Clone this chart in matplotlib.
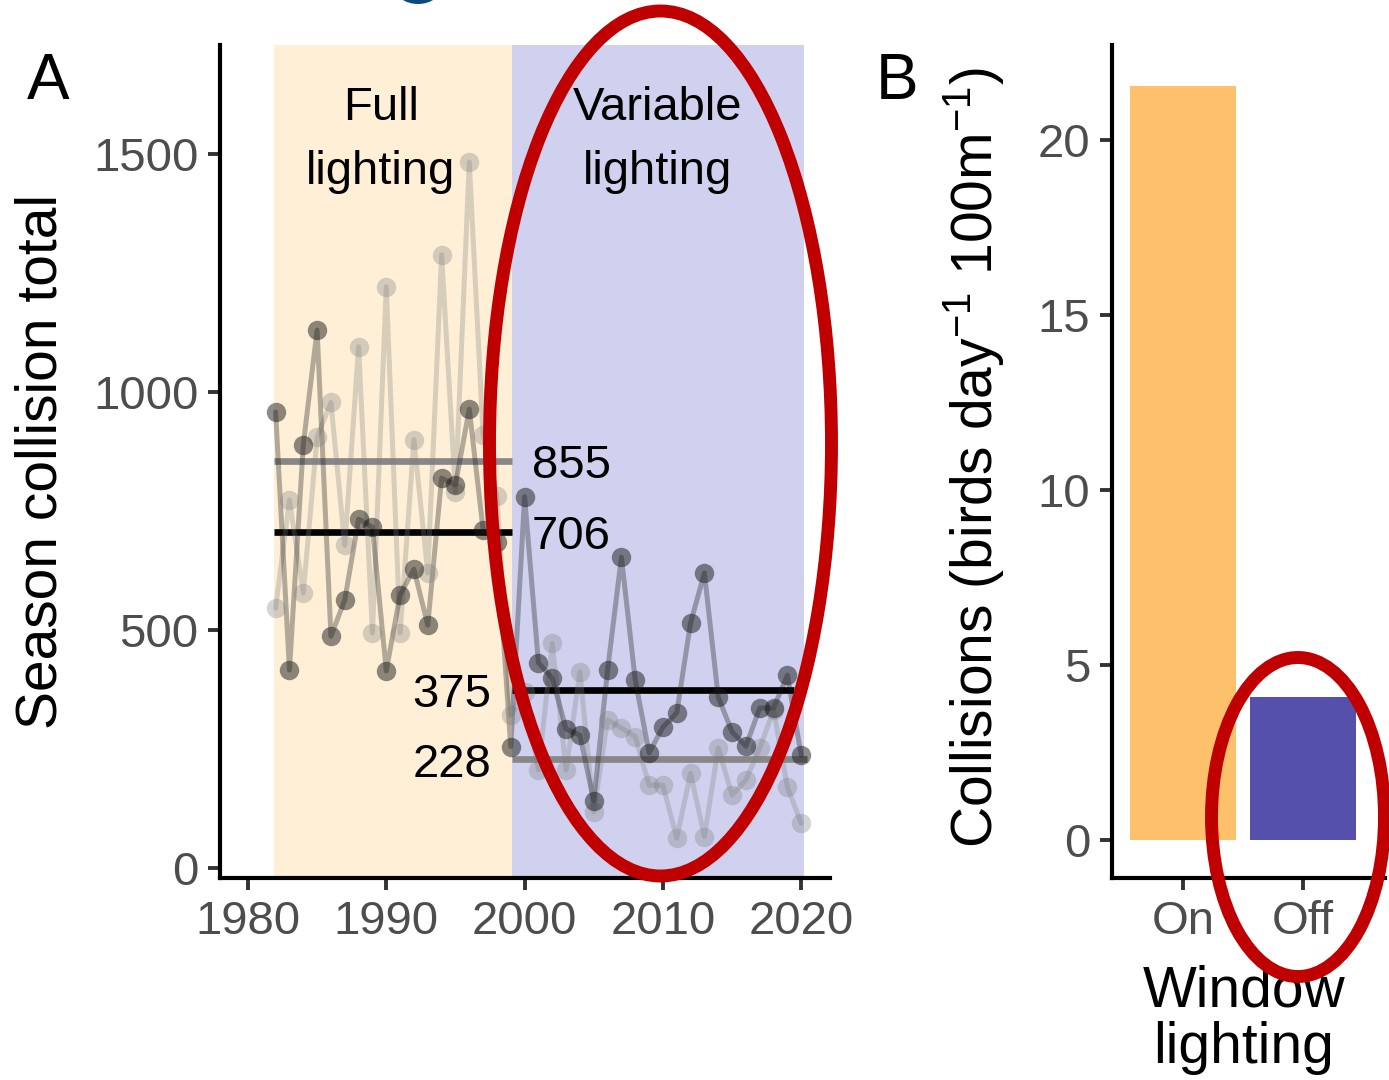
import matplotlib
matplotlib.use("Agg")
import matplotlib.pyplot as plt
from matplotlib.patches import Ellipse

plt.rcParams['font.family'] = ['Liberation Sans', 'DejaVu Sans']
plt.rcParams['mathtext.fontset'] = 'custom'
plt.rcParams['mathtext.rm'] = 'Liberation Sans'
plt.rcParams['mathtext.it'] = 'Liberation Sans:italic'

# ---------------- data ----------------
years = list(range(1982, 2021))
dark_series = [958, 416, 889, 1130, 487, 563, 733, 716, 414, 574, 628, 510, 819, 805, 964, 711, 685,
               255, 780, 431, 399, 292, 279, 141, 416, 653, 395, 242, 296, 326, 515, 620, 359, 286,
               256, 336, 336, 405, 237]
light_series = [546, 773, 578, 905, 978, 678, 1095, 494, 1221, 494, 900, 620, 1288, 790, 1483, 910, 782,
                321, 370, 206, 472, 206, 412, 118, 311, 294, 276, 174, 174, 63, 199, 66, 252, 153,
                185, 252, 332, 170, 94]
period_edges = [1981.9, 1999.1, 2020.2]
period_labels = ["Full\nlighting", "Variable\nlighting"]
full_means = {"light": 855, "dark": 706}
var_means = {"light": 228, "dark": 375}
mean_labels = ["855", "706", "375", "228"]

bar_cats = ["On", "Off"]
bar_vals = [21.54, 4.09]
bar_colors = ["#FEC16B", "#5450AB"]

x_ticks = [1980, 1990, 2000, 2010, 2020]
y_ticks_a = [0, 500, 1000, 1500]
y_ticks_b = [0, 5, 10, 15, 20]

# ---------------- figure ----------------
W, H = 1389, 1080
fig = plt.figure(figsize=(W / 100, H / 100), dpi=100)

def fx(px):
    return px / W

def fy(py):
    return 1 - py / H

axA = fig.add_axes([fx(220), fy(878), fx(830) - fx(220), fy(45) - fy(878)])
axB = fig.add_axes([fx(1112), fy(878), fx(1385) - fx(1112), fy(45) - fy(878)])

tick_col = "#4D4D4D"
tick_fs = 34
title_fs = 41
ann_fs = 34

for ax in (axA, axB):
    for s in ("top", "right"):
        ax.spines[s].set_visible(False)
    for s in ("left", "bottom"):
        ax.spines[s].set_linewidth(3.0)
        ax.spines[s].set_color("black")
    ax.tick_params(axis="both", length=8.5, width=2.8, color="#333333",
                   labelsize=tick_fs, labelcolor=tick_col, pad=7)

# ---------------- panel A ----------------
axA.set_xlim(1977.98, 2022.08)
axA.set_ylim(-21, 1729)
axA.axvspan(period_edges[0], period_edges[1], color="#FEEFD6", lw=0, zorder=0)
axA.axvspan(period_edges[1], period_edges[2], color="#CFD1EE", lw=0, zorder=0)

# mean segments
mean_lw = 4.8
axA.hlines(full_means["light"], period_edges[0], period_edges[1], color="#878787", lw=mean_lw, zorder=2)
axA.hlines(full_means["dark"], period_edges[0], period_edges[1], color="black", lw=mean_lw, zorder=2)
axA.hlines(var_means["dark"], period_edges[1], 2019.5, color="black", lw=mean_lw, zorder=2)
axA.hlines(var_means["light"], period_edges[1], 2020.4, color="#878787", lw=mean_lw, zorder=2)

# series
axA.plot(years, light_series, color="#7F7F7F", alpha=0.3, lw=3.6, zorder=3, solid_capstyle="round")
axA.plot(years, light_series, "o", color="#7F7F7F", alpha=0.33, ms=14, mew=0, zorder=4)
axA.plot(years, dark_series, color="#1a1a1a", alpha=0.33, lw=3.6, zorder=3, solid_capstyle="round")
axA.plot(years, dark_series, "o", color="#1a1a1a", alpha=0.5, ms=14, mew=0, zorder=5)

# labels (small downward nudge so glyph centres sit on the segments)
nudge = -11
axA.text(2000.5, full_means["light"] + nudge, mean_labels[0], fontsize=ann_fs, va="center", ha="left", zorder=6)
axA.text(2000.5, full_means["dark"] + nudge, mean_labels[1], fontsize=ann_fs, va="center", ha="left", zorder=6)
axA.text(1997.6, var_means["dark"] + nudge, mean_labels[2], fontsize=ann_fs, va="center", ha="right", zorder=6)
axA.text(1997.6, var_means["light"] + nudge, mean_labels[3], fontsize=ann_fs, va="center", ha="right", zorder=6)

axA.text(1989.6, 1530, period_labels[0], fontsize=ann_fs,
         ha="center", va="center", linespacing=1.6, zorder=6)
axA.text(2009.6, 1530, period_labels[1], fontsize=ann_fs,
         ha="center", va="center", linespacing=1.6, zorder=6)

axA.set_xticks(x_ticks)
axA.set_yticks(y_ticks_a)
axA.set_ylabel("Season collision total", fontsize=title_fs)
axA.yaxis.label.set_verticalalignment("center")
axA.yaxis.set_label_coords((42 - 220) / 610, 0.5)

# ---------------- panel B ----------------
axB.set_xlim(-0.592, 1.683)
axB.set_ylim(-1.086, 22.71)
axB.bar([0, 1], bar_vals, width=0.89, color=bar_colors, zorder=2)
axB.set_xticks([0, 1])
axB.set_xticklabels(bar_cats)
axB.set_yticks(y_ticks_b)
axB.set_xlabel("Window\nlighting", fontsize=title_fs, linespacing=1.05)
axB.xaxis.label.set_verticalalignment("center")
axB.xaxis.set_label_coords((1244 - 1112) / 273, (878 - 1020) / 833)
axB.set_ylabel(r"Collisions (birds day$^{-1}$ 100m$^{-1}$)", fontsize=title_fs)
axB.yaxis.label.set_verticalalignment("center")
axB.yaxis.set_label_coords((973 - 1112) / 273, (878 - 458) / 833)

# panel letters
fig.text(fx(48), fy(82), "A", fontsize=46, ha="center", va="center")
fig.text(fx(897), fy(82), "B", fontsize=46, ha="center", va="center")

# ---------------- overlay annotations ----------------
red = "#C00000"
fig.patches.append(Ellipse((fx(660.5), fy(443.5)), 342 / W, 865 / H, transform=fig.transFigure,
                           fill=False, ec=red, lw=9.3, zorder=20))
fig.patches.append(Ellipse((fx(1298), fy(817)), 173 / W, 319 / H, transform=fig.transFigure,
                           fill=False, ec=red, lw=9.3, zorder=20))
fig.patches.append(Ellipse((fx(418), fy(-14)), 48 / W, 36 / H, transform=fig.transFigure,
                           fc="#0B4A7A", ec="none", zorder=20))

fig.savefig("out.png", dpi=100)
